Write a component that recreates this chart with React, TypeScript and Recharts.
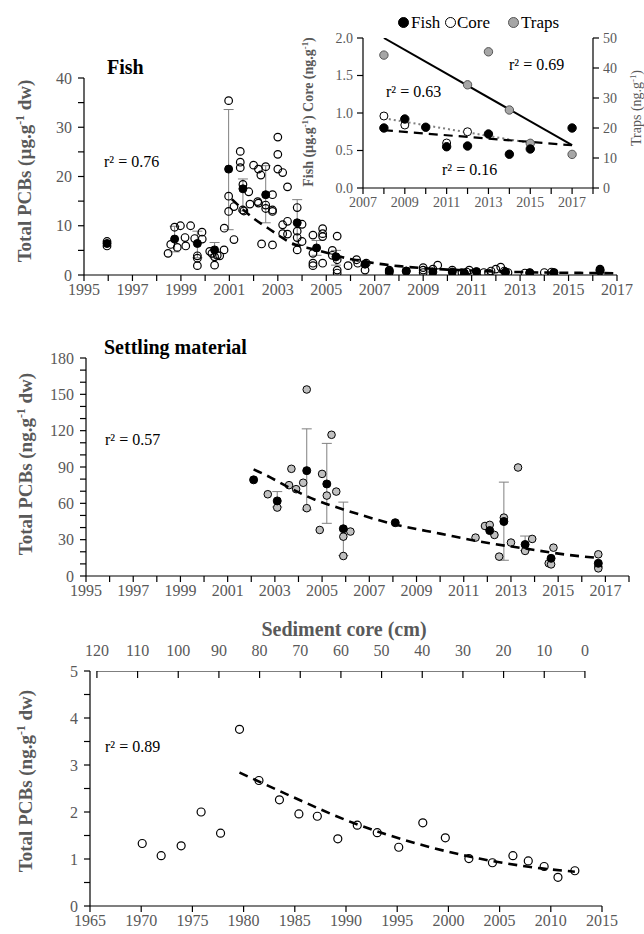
import { ScatterChart, Scatter, XAxis, YAxis, ErrorBar } from 'recharts'
import type { ReactNode } from 'react'

const SERIF = "'Liberation Serif', 'Times New Roman', serif"
const GRAY = '#595959'

// ---- Fish panel (µg.g-1 dw), [year, value] ----
const fishIndividual: [number, number][] = [
  [1995.95, 6.8], [1995.95, 5.9],
  [1998.47, 4.4], [1998.58, 6.2], [1998.74, 9.7], [1998.85, 5.6], [1998.98, 10.0],
  [1999.17, 7.6], [1999.2, 5.9], [1999.4, 10.0], [1999.57, 7.4], [1999.68, 3.9],
  [1999.68, 1.9], [1999.68, 3.4], [1999.87, 8.7], [1999.88, 7.3], [2000.19, 4.8],
  [2000.28, 4.4], [2000.39, 3.7], [2000.39, 2.0], [2000.5, 4.0], [2000.6, 3.9],
  [2000.78, 5.1], [2000.79, 9.5],
  [2000.97, 35.4], [2000.97, 16.0], [2000.97, 12.9], [2001.19, 7.2], [2001.19, 13.9],
  [2001.45, 25.1], [2001.45, 22.9], [2001.45, 21.8], [2001.56, 18.4], [2001.55, 13.2],
  [2001.6, 13.0], [2001.8, 16.9], [2001.85, 14.4], [2002.0, 22.3], [2002.2, 21.5],
  [2002.3, 20.3], [2002.17, 14.9], [2002.2, 14.6], [2002.5, 22.0], [2002.5, 14.2],
  [2002.5, 13.5], [2002.33, 6.3], [2002.78, 16.3], [2002.78, 13.2], [2002.78, 12.9],
  [2002.78, 6.1], [2003.0, 28.0], [2003.0, 24.5], [2003.0, 21.5], [2003.2, 20.8],
  [2003.4, 17.9], [2003.2, 10.2], [2003.2, 8.4], [2003.4, 10.9], [2003.4, 8.3],
  [2003.8, 13.7], [2003.8, 8.9], [2003.8, 7.6], [2003.8, 5.1], [2004.0, 10.3],
  [2004.0, 6.8], [2004.45, 8.1], [2004.45, 4.4], [2004.45, 2.4], [2004.45, 1.9],
  [2004.85, 9.4], [2004.85, 8.4], [2004.85, 7.8], [2004.85, 2.4], [2005.45, 7.9],
  [2005.25, 5.0], [2005.25, 4.0], [2005.45, 3.1], [2005.45, 1.0], [2005.45, 0.4],
  [2005.9, 1.9], [2006.25, 3.1], [2006.3, 2.4], [2006.6, 1.0], [2006.65, 2.4],
  [2007.6, 1.0], [2007.6, 0.5], [2008.3, 0.8], [2009.0, 1.5], [2009.0, 1.0],
  [2009.0, 0.5], [2009.4, 1.2], [2009.6, 2.0], [2010.2, 1.0], [2010.6, 0.5],
  [2010.7, 0.3], [2010.8, 0.6], [2010.9, 1.0], [2011.5, 0.5], [2011.7, 0.4],
  [2011.8, 0.8], [2012.0, 1.2], [2012.2, 1.6], [2012.35, 0.8], [2012.5, 0.5],
  [2013.2, 0.4], [2013.4, 0.5], [2014.0, 0.5], [2014.3, 0.6], [2016.3, 1.2], [2016.3, 0.8],
]
const fishMeans: [number, number][] = [
  [1995.95, 6.4], [2006.6, 2.2], [2007.6, 0.8], [2008.3, 0.8], [2009.4, 0.6],
  [2010.2, 0.6], [2010.7, 0.4], [2011.2, 0.7], [2012.4, 0.6], [2013.4, 0.4],
  [2014.4, 0.5], [2016.3, 1.0],
]
// [year, mean, low, high]
const fishMeanRanges: [number, number, number, number][] = [
  [1998.74, 7.3, 4.7, 9.9], [1999.68, 6.4, 3.5, 8.9], [2000.39, 5.1, 3.5, 6.6],
  [2000.97, 21.5, 9.2, 33.6], [2001.56, 17.5, 13.0, 19.5], [2002.5, 16.3, 10.6, 22.2],
  [2003.8, 10.6, 6.0, 15.3], [2004.6, 5.5, 4.0, 7.0], [2005.4, 3.7, 2.0, 5.0],
]
const fishTrend: [number, number][] = [
  [2001.1, 15.4], [2002.0, 11.5], [2002.6, 9.5], [2003.6, 6.4], [2004.5, 5.2],
  [2005.1, 4.4], [2005.6, 3.7], [2007.0, 2.4], [2008, 1.8], [2009, 1.4], [2010, 1.1],
  [2011, 0.9], [2012, 0.7], [2013, 0.6], [2014, 0.5], [2015, 0.45], [2016, 0.4], [2017, 0.35],
]
const fishYearTicks = [1995, 1996, 1997, 1998, 1999, 2000, 2001, 2002, 2003, 2004, 2005, 2006, 2007, 2008, 2009, 2010, 2011, 2012, 2013, 2014, 2015, 2016, 2017]
const fishValueTicks = [0, 5, 10, 15, 20, 25, 30, 35, 40]

// ---- Inset (2007–2017) ----
const insetFish: [number, number][] = [
  [2008, 0.8], [2009, 0.92], [2010, 0.81], [2011, 0.55], [2012, 0.56],
  [2013, 0.72], [2014, 0.45], [2015, 0.52], [2017, 0.8],
]
const insetCore: [number, number][] = [[2008, 0.96], [2009, 0.84], [2011, 0.6], [2012, 0.75]]
const insetTraps: [number, number][] = [
  [2008, 44.3], [2012, 34.4], [2013, 45.4], [2014, 26], [2015, 14.9], [2017, 11.2],
]
const insetTrapsTrend: [number, number][] = [[2008, 50], [2017, 14.3]]
const insetFishTrend: [number, number][] = [[2008, 0.77], [2017, 0.57]]
const insetCoreTrend: [number, number][] = [[2008, 0.93], [2015, 0.6]]
const insetYearTicks = [2007, 2008, 2009, 2010, 2011, 2012, 2013, 2014, 2015, 2016, 2017, 2018]
const insetLeftTicks = [0, 0.5, 1, 1.5, 2]
const insetRightTicks = [0, 10, 20, 30, 40, 50]

// ---- Settling material (ng.g-1 dw) ----
const settlingSamples: [number, number][] = [
  [2002.7, 67.5], [2003.1, 56.5], [2003.6, 75], [2003.7, 88.5], [2003.9, 71.7],
  [2004.2, 77], [2004.35, 154], [2004.35, 56], [2004.9, 38], [2005.0, 84.3],
  [2005.2, 66.4], [2005.4, 116.6], [2005.6, 69.7], [2005.9, 32.5], [2005.9, 16.5],
  [2006.2, 36.7], [2011.5, 31.7], [2011.9, 41.3], [2012.1, 42.2], [2012.3, 33.9],
  [2012.5, 16], [2012.7, 48.2], [2013.0, 27.6], [2013.3, 89.6], [2013.6, 20.7],
  [2013.9, 30.6], [2014.6, 10.5], [2014.7, 9.6], [2014.8, 23.4], [2016.7, 17.9],
  [2016.7, 7.7], [2016.7, 6.3],
]
const settlingMeans: [number, number][] = [
  [2002.1, 79.4], [2008.1, 44], [2012.1, 37.5], [2014.7, 14.6], [2016.7, 10.5],
]
const settlingMeanRanges: [number, number, number, number][] = [
  [2003.1, 62, 57, 69.7], [2004.35, 87, 54.6, 121.5], [2005.2, 76, 43.5, 109.5],
  [2005.9, 39, 17, 61], [2012.7, 45, 13, 77.5], [2013.6, 26, 21, 33],
]
const settlingTrend: [number, number][] = [
  [2002.1, 88], [2002.6, 83.5], [2003.6, 73], [2004.7, 63], [2005.9, 55], [2008, 43],
  [2010, 35], [2012.1, 27], [2013.5, 23], [2015.6, 17], [2016.7, 15],
]
const settlingYearTicks = [1995, 1996, 1997, 1998, 1999, 2000, 2001, 2002, 2003, 2004, 2005, 2006, 2007, 2008, 2009, 2010, 2011, 2012, 2013, 2014, 2015, 2016, 2017, 2018]
const settlingValueTicks = [0, 10, 20, 30, 40, 50, 60, 70, 80, 90, 100, 110, 120, 130, 140, 150, 160, 170, 180]

// ---- Sediment core (ng.g-1 dw) ----
const coreSamples: [number, number][] = [
  [1970.1, 1.33], [1971.95, 1.07], [1973.9, 1.28], [1975.85, 2.0], [1977.75, 1.55],
  [1979.6, 3.76], [1981.5, 2.67], [1983.5, 2.26], [1985.4, 1.96], [1987.2, 1.91],
  [1989.2, 1.43], [1991.1, 1.72], [1993.05, 1.56], [1995.15, 1.25], [1997.5, 1.77],
  [1999.7, 1.45], [2002.0, 1.01], [2004.3, 0.92], [2006.3, 1.07], [2007.8, 0.96],
  [2009.35, 0.84], [2010.7, 0.61], [2012.35, 0.75],
]
const coreTrend: [number, number][] = [
  [1979.6, 2.84], [1984.7, 2.33], [1990.8, 1.76], [1996.9, 1.33], [2003, 1.01],
  [2009.1, 0.8], [2012.35, 0.73],
]
const coreYearTicks = [1965, 1970, 1975, 1980, 1985, 1990, 1995, 2000, 2005, 2010, 2015]
const coreValueTicks = [0, 0.5, 1, 1.5, 2, 2.5, 3, 3.5, 4, 4.5, 5]
const coreDepthTicks = [0, 10, 20, 30, 40, 50, 60, 70, 80, 90, 100, 110, 120]
// depth range covered by the core (cm), drawn as the top axis line
const coreDepthSpan: [number, number][] = [[120, 5], [0, 5]]

const pts = (a: [number, number][]) => a.map(([x, y]) => ({ x, y }))
const ranged = (a: [number, number, number, number][]) =>
  a.map(([x, y, lo, hi]) => ({ x, y, err: [y - lo, hi - y] }))

const openDot = (r: number) => (p: any) =>
  <circle cx={p.cx} cy={p.cy} r={r} fill="none" stroke="#000" strokeWidth={1.2} />
const fillDot = (r: number, fill: string, stroke = '#000') => (p: any) =>
  <circle cx={p.cx} cy={p.cy} r={r} fill={fill} stroke={stroke} strokeWidth={1} />
const noDot = () => <g />

const axisLine = { stroke: '#000', strokeWidth: 1.2 }
const tickStyle = { fill: GRAY, fontSize: 16 }
const smallTick = { fill: GRAY, fontSize: 14 }
const oddYear = (v: number) => (v % 2 === 1 ? String(v) : '')
const dashed = { stroke: '#000', strokeWidth: 2.6, strokeDasharray: '9 6' }
const wrap = (left: number, top: number) =>
  ({ position: 'absolute' as const, left, top, fontFamily: SERIF })

function Txt({ x, y, size = 16, bold, color = '#000', children }: { x: number; y: number; size?: number; bold?: boolean; color?: string; children: ReactNode }) {
  return (
    <div style={{ position: 'absolute', left: x, top: y, transform: 'translateY(-50%)', whiteSpace: 'nowrap', fontFamily: SERIF, fontSize: size, fontWeight: bold ? 700 : 400, color, lineHeight: 1 }}>
      {children}
    </div>
  )
}

function VTxt({ cx, cy, size = 19, bold = true, children }: { cx: number; cy: number; size?: number; bold?: boolean; children: ReactNode }) {
  return (
    <div style={{ position: 'absolute', left: cx, top: cy, transform: 'translate(-50%,-50%) rotate(-90deg)', whiteSpace: 'nowrap', fontFamily: SERIF, fontSize: size, fontWeight: bold ? 700 : 400, color: GRAY, lineHeight: 1 }}>
      {children}
    </div>
  )
}

const Sup = ({ children }: { children: ReactNode }) => (
  <sup style={{ fontSize: '0.62em', verticalAlign: '0.55em', lineHeight: 0 }}>{children}</sup>
)

function Marker({ x, y, fill, stroke = '#000' }: { x: number; y: number; fill: string; stroke?: string }) {
  return <div style={{ position: 'absolute', left: x - 5, top: y - 5, width: 9, height: 9, borderRadius: '50%', background: fill, border: `1px solid ${stroke}` }} />
}

const CoreTick = (props: any) => {
  const { x, payload } = props
  return (
    <g>
      <line x1={x} x2={x} y1={71} y2={78} stroke="#000" strokeWidth={1.2} />
      <text x={x} y={56} textAnchor="middle" fill={GRAY} fontSize={16} fontFamily={SERIF}>{payload.value}</text>
    </g>
  )
}

export default function App() {
  return (
    <div style={{ position: 'absolute', left: 0, top: 0, width: 644, height: 934, background: '#fff', overflow: 'hidden', fontFamily: SERIF }}>
      {/* Fish panel */}
      <div style={wrap(0, 0)}>
        <ScatterChart width={644} height={300} margin={{ top: 78, right: 27, bottom: 5, left: 44 }} style={{ fontFamily: SERIF }}>
          <XAxis type="number" dataKey="x" domain={[1995, 2017]} ticks={fishYearTicks} tickFormatter={oddYear}
            interval={0} allowDataOverflow height={20} axisLine={axisLine} tickLine={axisLine} tick={tickStyle} tickMargin={3} />
          <YAxis type="number" dataKey="y" domain={[0, 40]} ticks={fishValueTicks} interval={0} allowDataOverflow width={40}
            tickFormatter={(v: number) => (v % 10 === 0 ? String(v) : '')} axisLine={axisLine} tickLine={axisLine} tick={tickStyle} tickMargin={6} />
          <Scatter data={pts(fishIndividual)} shape={openDot(3.8)} isAnimationActive={false} />
          <Scatter data={ranged(fishMeanRanges)} shape={fillDot(4, '#000')} isAnimationActive={false}>
            <ErrorBar dataKey="err" direction="y" width={5} stroke="#808080" strokeWidth={1} isAnimationActive={false} />
          </Scatter>
          <Scatter data={pts(fishMeans)} shape={fillDot(4, '#000')} isAnimationActive={false} />
          <Scatter data={pts(fishTrend)} shape={noDot} line={dashed} lineJointType="monotoneX" isAnimationActive={false} />
        </ScatterChart>
      </div>

      {/* Inset */}
      <div style={wrap(300, 0)}>
        <ScatterChart width={344} height={210} margin={{ top: 38, right: 16, bottom: 2, left: 23 }} style={{ fontFamily: SERIF }}>
          <XAxis type="number" dataKey="x" domain={[2007, 2018]} ticks={insetYearTicks} interval={0} tickFormatter={oddYear}
            allowDataOverflow height={20} axisLine={axisLine} tickLine={axisLine} tick={smallTick} tickMargin={3} />
          <YAxis yAxisId="l" type="number" dataKey="y" domain={[0, 2]} ticks={insetLeftTicks} interval={0} allowDataOverflow width={40}
            tickFormatter={(v: number) => v.toFixed(1)} axisLine={axisLine} tickLine={axisLine} tick={smallTick} tickMargin={4} />
          <YAxis yAxisId="r" orientation="right" type="number" dataKey="y" domain={[0, 50]} ticks={insetRightTicks} interval={0}
            allowDataOverflow width={35} axisLine={axisLine} tickLine={axisLine} tick={smallTick} tickMargin={4} />
          <Scatter yAxisId="l" data={pts(insetCoreTrend)} shape={noDot} line={{ stroke: '#808080', strokeWidth: 2, strokeDasharray: '2 3' }} isAnimationActive={false} />
          <Scatter yAxisId="l" data={pts(insetFishTrend)} shape={noDot} line={{ stroke: '#000', strokeWidth: 2.2, strokeDasharray: '9 6' }} isAnimationActive={false} />
          <Scatter yAxisId="r" data={pts(insetTrapsTrend)} shape={noDot} line={{ stroke: '#000', strokeWidth: 2 }} isAnimationActive={false} />
          <Scatter yAxisId="l" data={pts(insetCore)} shape={fillDot(4, '#fff')} isAnimationActive={false} />
          <Scatter yAxisId="r" data={pts(insetTraps)} shape={fillDot(4.2, '#a6a6a6', '#555')} isAnimationActive={false} />
          <Scatter yAxisId="l" data={pts(insetFish)} shape={fillDot(4.2, '#000')} isAnimationActive={false} />
        </ScatterChart>
      </div>

      {/* Settling material */}
      <div style={wrap(0, 300)}>
        <ScatterChart width={644} height={300} margin={{ top: 58, right: 15, bottom: 4, left: 46 }} style={{ fontFamily: SERIF }}>
          <XAxis type="number" dataKey="x" domain={[1995, 2018]} ticks={settlingYearTicks} interval={0} tickFormatter={oddYear}
            allowDataOverflow height={20} axisLine={axisLine} tickLine={axisLine} tick={tickStyle} tickMargin={3} />
          <YAxis type="number" dataKey="y" domain={[0, 180]} ticks={settlingValueTicks} interval={0} allowDataOverflow width={40}
            tickFormatter={(v: number) => (v % 30 === 0 ? String(v) : '')} axisLine={axisLine} tickLine={axisLine} tick={tickStyle} tickMargin={6} />
          <Scatter data={pts(settlingSamples)} shape={fillDot(3.8, '#c0c0c0')} isAnimationActive={false} />
          <Scatter data={ranged(settlingMeanRanges)} shape={fillDot(4, '#000')} isAnimationActive={false}>
            <ErrorBar dataKey="err" direction="y" width={5} stroke="#808080" strokeWidth={1} isAnimationActive={false} />
          </Scatter>
          <Scatter data={pts(settlingMeans)} shape={fillDot(4, '#000')} isAnimationActive={false} />
          <Scatter data={pts(settlingTrend)} shape={noDot} line={dashed} lineJointType="monotoneX" isAnimationActive={false} />
        </ScatterChart>
      </div>

      {/* Sediment core */}
      <div style={wrap(0, 600)}>
        <ScatterChart width={644} height={334} margin={{ top: 41, right: 42, bottom: 4, left: 50 }} style={{ fontFamily: SERIF }}>
          <XAxis type="number" dataKey="x" domain={[1965, 2015]} ticks={coreYearTicks} interval={0}
            allowDataOverflow height={24} axisLine={axisLine} tickLine={axisLine} tick={tickStyle} tickMargin={3} />
          <XAxis xAxisId="cm" orientation="top" type="number" dataKey="x" domain={[-4.2, 121.7]} reversed ticks={coreDepthTicks} interval={0}
            allowDataOverflow height={30} axisLine={false} tickLine={false} tick={<CoreTick />} />
          <YAxis type="number" dataKey="y" domain={[0, 5]} ticks={coreValueTicks} interval={0} allowDataOverflow width={40}
            tickFormatter={(v: number) => (Number.isInteger(v) ? String(v) : '')} axisLine={axisLine} tickLine={axisLine} tick={tickStyle} tickMargin={6} />
          <Scatter xAxisId="cm" data={pts(coreDepthSpan)} shape={noDot} line={{ stroke: '#000', strokeWidth: 1.2 }} isAnimationActive={false} />
          <Scatter data={pts(coreSamples)} shape={openDot(4)} isAnimationActive={false} />
          <Scatter data={pts(coreTrend)} shape={noDot} line={dashed} lineJointType="monotoneX" isAnimationActive={false} />
        </ScatterChart>
      </div>

      {/* Text annotations */}
      <Txt x={107} y={67} size={20} bold>Fish</Txt>
      <Txt x={104} y={162}>r² = 0.76</Txt>
      <VTxt cx={24} cy={171}>Total PCBs (µg.g<Sup>-1</Sup> dw)</VTxt>

      <Marker x={403} y={22} fill="#000" />
      <Txt x={411} y={22} size={17}>Fish</Txt>
      <Marker x={450} y={22} fill="#fff" />
      <Txt x={457} y={22} size={17}>Core</Txt>
      <Marker x={513} y={22} fill="#a6a6a6" stroke="#555" />
      <Txt x={521} y={22} size={17}>Traps</Txt>
      <Txt x={509} y={65}>r² = 0.69</Txt>
      <Txt x={386} y={92}>r² = 0.63</Txt>
      <Txt x={442} y={170}>r² = 0.16</Txt>
      <VTxt cx={309} cy={112} size={14}>Fish (µg.g<Sup>-1</Sup>) Core (ng.g<Sup>-1</Sup>)</VTxt>
      <VTxt cx={637} cy={108} size={14} bold={false}>Traps (ng.g<Sup>-1</Sup>)</VTxt>

      <Txt x={104} y={347} size={20} bold>Settling material</Txt>
      <Txt x={105} y={440}>r² = 0.57</Txt>
      <VTxt cx={25} cy={464}>Total PCBs (ng.g<Sup>-1</Sup> dw)</VTxt>

      <div style={{ position: 'absolute', left: 344, top: 629, transform: 'translate(-50%,-50%)', whiteSpace: 'nowrap', fontFamily: SERIF, fontSize: 20, fontWeight: 700, color: GRAY, lineHeight: 1 }}>
        Sediment core (cm)
      </div>
      <Txt x={105} y={747}>r² = 0.89</Txt>
      <VTxt cx={25} cy={781}>Total PCBs (ng.g<Sup>-1</Sup> dw)</VTxt>
    </div>
  )
}
